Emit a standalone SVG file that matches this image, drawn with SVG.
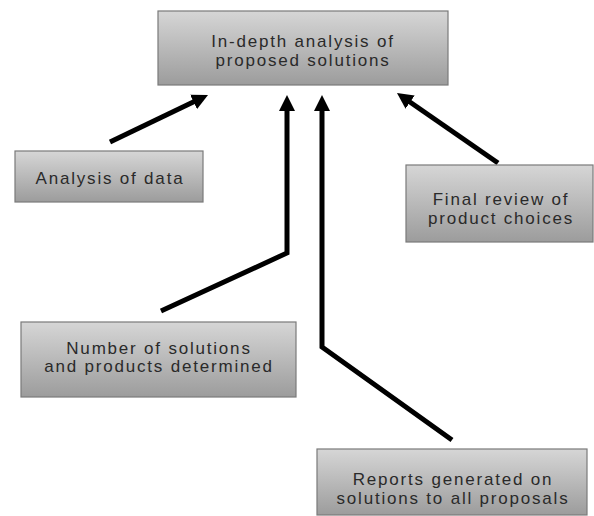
<svg xmlns="http://www.w3.org/2000/svg" width="594" height="516" viewBox="0 0 594 516">
<style>
.box{fill:url(#g);stroke:#7a7a7a;stroke-width:1.2}
.t{font-family:"Liberation Sans",Arial,sans-serif;font-size:17px;fill:#2a2a2a;text-anchor:middle;letter-spacing:1.8px}
.c{fill:none;stroke:#000;stroke-width:5;stroke-linejoin:miter;marker-end:url(#ah)}
</style>
<defs>
<linearGradient id="g" x1="0" y1="0" x2="0" y2="1">
<stop offset="0" stop-color="#d6d6d6"/>
<stop offset="1" stop-color="#9c9c9c"/>
</linearGradient>
<marker id="ah" markerUnits="userSpaceOnUse" markerWidth="16" markerHeight="16" refX="6" refY="8" orient="auto" viewBox="0 0 16 16">
<path d="M0,0 L16,8 L0,16 z" fill="#000"/>
</marker>
</defs>
<rect width="594" height="516" fill="#fff"/>
<g id="connectors">
<path class="c" d="M110,142 L199,99.3"/>
<path class="c" d="M161,311 L287,253 L287,105"/>
<path class="c" d="M452,440 L322,347 L322,105"/>
<path class="c" d="M498,163 L405.2,98.7"/>
</g>
<g id="n-analysis-proposed">
<rect class="box" x="158" y="11" width="290" height="74"/>
<text class="t" x="303" y="47">In-depth analysis of</text>
<text class="t" x="303" y="66">proposed solutions</text>
</g>
<g id="n-analysis-data">
<rect class="box" x="15" y="151" width="188" height="51"/>
<text class="t" x="110" y="184">Analysis of data</text>
</g>
<g id="n-number">
<rect class="box" x="21" y="322" width="275" height="75"/>
<text class="t" x="159" y="354">Number of solutions</text>
<text class="t" x="159" y="372">and products determined</text>
</g>
<g id="n-final">
<rect class="box" x="406" y="165" width="187" height="77"/>
<text class="t" x="501" y="205">Final review of</text>
<text class="t" x="501" y="224">product choices</text>
</g>
<g id="n-reports">
<rect class="box" x="317" y="449" width="270" height="66"/>
<text class="t" x="453" y="485">Reports generated on</text>
<text class="t" x="453" y="504">solutions to all proposals</text>
</g>
</svg>
